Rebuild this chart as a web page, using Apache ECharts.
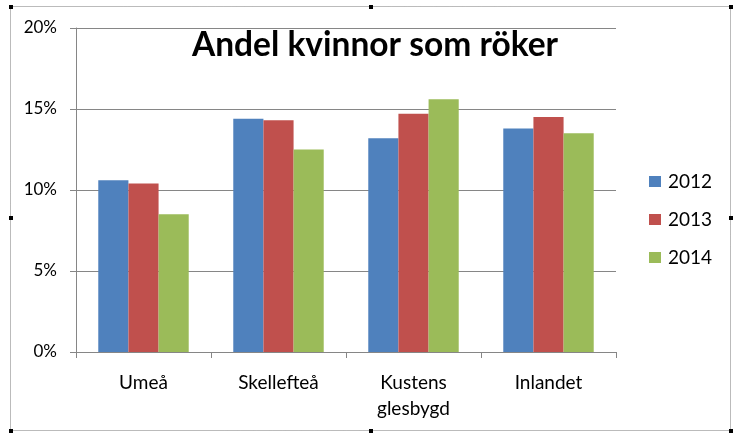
<!DOCTYPE html>
<html>
<head>
<meta charset="utf-8">
<script src="https://cdn.jsdelivr.net/npm/echarts@6/dist/echarts.min.js"></script>
<style>
html,body{margin:0;padding:0;background:#fff;}
#chart{width:746px;height:441px;}
</style>
</head>
<body>
<div id="chart"></div>
<script>
var categories = ['Umeå', 'Skellefteå', 'Kustens\nglesbygd', 'Inlandet'];
var seriesNames = ['2012', '2013', '2014'];
var values2012 = [10.6, 14.4, 13.2, 13.8];
var values2013 = [10.4, 14.3, 14.7, 14.5];
var values2014 = [8.5, 12.5, 15.6, 13.5];
var yTicks = [0, 5, 10, 15, 20];
var colors = ['#4F81BD', '#C0504D', '#9BBB59'];

var chart = echarts.init(document.getElementById('chart'), null, {renderer: 'canvas'});
var font = 'Lato, "Open Sans", sans-serif';
var gridColor = '#868686';

function handle(x, y) {
  return {type: 'rect', shape: {x: x - 2, y: y - 2, width: 4, height: 4}, style: {fill: '#000'}, z: 100};
}

var allData = [values2012, values2013, values2014];
var option = {
  animation: false,
  textStyle: {fontFamily: font},
  title: {
    text: 'Andel kvinnor som röker',
    left: 370, top: 23, textAlign: 'center',
    textStyle: {fontFamily: font, fontSize: 33.5, fontWeight: 'bold', color: '#000'}
  },
  legend: {
    orient: 'vertical', left: 644, top: 167,
    itemWidth: 12, itemHeight: 11, itemGap: 19, icon: 'rect',
    textStyle: {fontFamily: font, fontSize: 19, color: '#000', padding: [0, 0, 0, 2]},
    data: seriesNames
  },
  grid: {left: 76, right: 130, top: 28, bottom: 89},
  xAxis: {
    type: 'category', data: categories,
    axisLine: {lineStyle: {color: gridColor, width: 1}},
    axisTick: {show: true, length: 6, lineStyle: {color: gridColor}},
    axisLabel: {fontFamily: font, fontSize: 19, color: '#000', margin: 18, lineHeight: 26}
  },
  yAxis: {
    type: 'value', min: yTicks[0], max: yTicks[yTicks.length - 1], interval: 5,
    axisLine: {show: true, lineStyle: {color: gridColor, width: 1}},
    axisTick: {show: true, length: 6, lineStyle: {color: gridColor}},
    splitLine: {lineStyle: {color: gridColor, width: 1}},
    axisLabel: {fontFamily: font, fontSize: 17, color: '#000', margin: 19, formatter: '{value}%'}
  },
  series: seriesNames.map(function (n, i) {
    return {
      name: n, type: 'bar', data: allData[i],
      barGap: '0%', barCategoryGap: '33%',
      itemStyle: {color: colors[i]}
    };
  }),
  graphic: [
    {type: 'rect', shape: {x: 10.5, y: 6.5, width: 720, height: 424},
     style: {fill: null, stroke: '#777', lineWidth: 1, lineDash: [1, 1]}, z: 99},
    handle(11, 7), handle(371, 7), handle(731, 7),
    handle(11, 218), handle(731, 218),
    handle(11, 431), handle(371, 431), handle(731, 431)
  ]
};
chart.setOption(option);
</script>
</body>
</html>
